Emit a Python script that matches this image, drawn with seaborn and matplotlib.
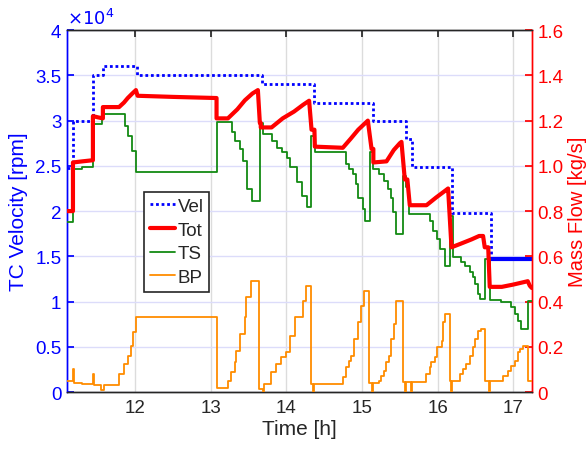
import numpy as np
import pandas as pd
import matplotlib
matplotlib.use("Agg")
import matplotlib.pyplot as plt
import seaborn as sns
from matplotlib.lines import Line2D

# ---------------- data ----------------
vel_t = [11.095, 11.175, 11.439, 11.571, 12.021, 13.675, 14.363, 15.143, 15.580, 15.655, 16.188, 16.704, 17.247]
vel_v = [24800, 30000, 35000, 36000, 35000, 34000, 32000, 30000, 28000, 24900, 19800, 14700, 14700]

tot_t = [11.095, 11.175, 11.175, 11.30, 11.439, 11.439, 11.50, 11.571, 11.571, 11.785, 11.85, 11.90, 11.96, 12.008, 12.03,
         12.5, 13.075, 13.075, 13.225, 13.35, 13.45, 13.55, 13.622, 13.648, 13.66, 13.66, 13.803, 13.95, 14.10, 14.22, 14.300,
         14.332, 14.37, 14.376, 14.746, 14.85, 14.95, 15.077, 15.126, 15.15, 15.15, 15.324, 15.42, 15.50, 15.522, 15.566,
         15.60, 15.632, 15.853, 15.98, 16.10, 16.139, 16.184, 16.30, 16.45, 16.55, 16.602, 16.624, 16.67, 16.69, 16.85,
         17.00, 17.193, 17.22, 17.247]
tot_v = [0.80, 0.80, 1.015, 1.02, 1.025, 1.22, 1.215, 1.21, 1.26, 1.26, 1.28, 1.30, 1.32, 1.335, 1.31,
         1.305, 1.30, 1.21, 1.21, 1.25, 1.29, 1.32, 1.335, 1.19, 1.19, 1.17, 1.17, 1.21, 1.24, 1.27, 1.288,
         1.16, 1.16, 1.085, 1.08, 1.12, 1.16, 1.20, 1.075, 1.075, 1.015, 1.02, 1.07, 1.10, 1.106, 0.94,
         0.94, 0.826, 0.826, 0.86, 0.89, 0.90, 0.64, 0.655, 0.675, 0.69, 0.69, 0.64, 0.64, 0.465, 0.465,
         0.475, 0.49, 0.47, 0.46]

ts_t = [11.095, 11.175, 11.30, 11.439, 11.554, 11.819, 11.862, 11.906, 11.951, 12.008, 13.075, 13.225, 13.274, 13.318,
        13.384, 13.428, 13.473, 13.539, 13.648, 13.692, 13.803, 13.869, 13.935, 14.001, 14.045, 14.134, 14.200, 14.266,
        14.326, 14.376, 14.790, 14.834, 14.878, 14.914, 14.944, 15.011, 15.046, 15.108, 15.143, 15.231, 15.297, 15.341,
        15.386, 15.407, 15.452, 15.540, 15.584, 15.628, 15.897, 15.941, 15.986, 16.029, 16.095, 16.161, 16.205, 16.315,
        16.359, 16.425, 16.469, 16.491, 16.535, 16.558, 16.632, 16.690, 16.844, 16.976, 17.020, 17.064, 17.108, 17.195,
        17.247]
ts_v = [0.75, 0.985, 0.993, 1.185, 1.229, 1.229, 1.177, 1.133, 1.066, 0.975, 1.196, 1.196, 1.148, 1.111,
        1.074, 1.022, 0.897, 0.846, 1.19, 1.14, 1.11, 1.08, 1.06, 1.037, 0.993, 0.927, 0.868, 0.816,
        1.133, 1.062, 1.008, 0.986, 0.963, 0.919, 0.86, 0.809, 0.757, 1.06, 0.986, 0.963, 0.934, 0.897,
        0.86, 0.794, 0.698, 0.956, 0.905, 0.787, 0.757, 0.713, 0.676, 0.632, 0.558, 0.78, 0.595, 0.573,
        0.558, 0.529, 0.507, 0.477, 0.433, 0.411, 0.588, 0.408, 0.396, 0.374, 0.345, 0.315, 0.278, 0.404,
        0.404]

bp_t = [11.095, 11.175, 11.19, 11.30, 11.439, 11.45, 11.55, 11.58, 11.785, 11.852, 11.905, 11.941, 11.975, 12.007,
        13.075, 13.225, 13.270, 13.314, 13.336, 13.381, 13.447, 13.469, 13.535, 13.637, 13.69, 13.70, 13.801, 13.867,
        13.933, 14.000, 14.043, 14.109, 14.220, 14.264, 14.330, 14.355, 14.365, 14.745, 14.789, 14.833, 14.855, 14.899,
        14.943, 14.988, 15.032, 15.098, 15.135, 15.145, 15.230, 15.252, 15.296, 15.318, 15.362, 15.384, 15.429,
        15.451, 15.540, 15.575, 15.585, 15.645, 15.655, 15.853, 15.897, 15.919, 15.963, 15.986, 16.052, 16.074,
        16.095, 16.161, 16.18, 16.19, 16.290, 16.334, 16.378, 16.423, 16.467, 16.489, 16.533, 16.577, 16.634,
        16.685, 16.695, 16.866, 16.932, 16.976, 17.020, 17.064, 17.086, 17.130, 17.196, 17.247]
bp_v = [0.05, 0.10, 0.04, 0.035, 0.08, 0.03, 0.01, 0.03, 0.08, 0.124, 0.16, 0.205, 0.264, 0.333,
        0.018, 0.05, 0.087, 0.131, 0.183, 0.256, 0.33, 0.419, 0.492, 0.013, 0.0, 0.035, 0.087, 0.124,
        0.153, 0.175, 0.249, 0.33, 0.404, 0.47, 0.035, 0.0, 0.035, 0.065, 0.109, 0.138, 0.16, 0.234,
        0.308, 0.381, 0.448, 0.04, 0.0, 0.04, 0.05, 0.072, 0.094, 0.131, 0.16, 0.234, 0.30,
        0.404, 0.043, 0.0, 0.043, 0.0, 0.045, 0.08, 0.109, 0.131, 0.153, 0.198, 0.227, 0.308,
        0.345, 0.05, 0.0, 0.05, 0.08, 0.10, 0.124, 0.16, 0.198, 0.234, 0.271, 0.278, 0.05,
        0.0, 0.05, 0.072, 0.094, 0.116, 0.138, 0.175, 0.19, 0.205, 0.05, 0.05]

x_ticks = [12, 13, 14, 15, 16, 17]
left_ticks = [0, 5000, 10000, 15000, 20000, 25000, 30000, 35000, 40000]
left_labels = ['0', '0.5', '1', '1.5', '2', '2.5', '3', '3.5', '4']
right_ticks = [0, 0.2, 0.4, 0.6, 0.8, 1.0, 1.2, 1.4, 1.6]
right_labels = ['0', '0.2', '0.4', '0.6', '0.8', '1.0', '1.2', '1.4', '1.6']

# ---------------- style ----------------
sns.set_theme(style="white")
plt.rcParams['font.family'] = ['Arial', 'Liberation Sans', 'DejaVu Sans']

BLUE = '#0000FF'
RED = '#FF0000'
GREEN = '#138A13'
ORANGE = '#FF8C00'
DARK = '#262626'

fig = plt.figure(figsize=(5.87, 4.52), dpi=100)
ax = fig.add_axes([0.114, 0.1305, 0.792, 0.8005])
ax2 = ax.twinx()

df_vel = pd.DataFrame({'t': vel_t, 'v': vel_v})
df_tot = pd.DataFrame({'t': tot_t, 'v': tot_v})
df_ts = pd.DataFrame({'t': ts_t, 'v': ts_v})
df_bp = pd.DataFrame({'t': bp_t, 'v': bp_v})

sns.lineplot(data=df_vel, x='t', y='v', ax=ax, color=BLUE, lw=2, linestyle=(0, (1, 1)),
             drawstyle='steps-post', estimator=None, sort=False, zorder=5)
# final plateau of the velocity trace is densely sampled -> appears solid
sns.lineplot(data=df_vel[df_vel['t'] >= vel_t[-2]], x='t', y='v', ax=ax, color=BLUE, lw=3,
             drawstyle='steps-post', estimator=None, sort=False, zorder=5)
sns.lineplot(data=df_tot, x='t', y='v', ax=ax2, color=RED, lw=3, estimator=None, sort=False, zorder=4)
sns.lineplot(data=df_ts, x='t', y='v', ax=ax2, color=GREEN, lw=1.3, drawstyle='steps-post',
             estimator=None, sort=False, zorder=3)
sns.lineplot(data=df_bp, x='t', y='v', ax=ax2, color=ORANGE, lw=1.3, drawstyle='steps-post',
             estimator=None, sort=False, zorder=3)

# axes limits / ticks
ax.set_xlim(11.095, 17.247)
ax.set_ylim(0, 40000)
ax2.set_ylim(0, 1.6)
ax.set_xticks(x_ticks)
ax.set_xticklabels([str(v) for v in x_ticks])
ax.set_yticks(left_ticks)
ax.set_yticklabels(left_labels)
ax2.set_yticks(right_ticks)
ax2.set_yticklabels(right_labels)

ax.set_xlabel('Time [h]', fontsize=15, color=DARK, labelpad=2)
ax.set_ylabel('TC Velocity [rpm]', fontsize=15, color=BLUE, labelpad=5)
ax2.set_ylabel('Mass Flow [kg/s]', fontsize=14.5, color=RED, labelpad=3)

ax.tick_params(axis='x', colors=DARK, labelsize=13.5, direction='in', length=5, top=True, pad=5)
ax.tick_params(axis='y', colors=BLUE, labelsize=13.5, direction='in', length=5, pad=4)
ax2.tick_params(axis='y', colors=RED, labelsize=13.5, direction='in', length=5, pad=4)
ax2.tick_params(axis='x', top=True, direction='in')

# grids
ax.grid(False)
ax2.grid(False)
for xv in x_ticks:
    ax.axvline(xv, color='#dcdcdc', lw=1, zorder=0)
for yv in left_ticks:
    ax.axhline(yv, color='#dcdcfa', lw=1, zorder=0)

for a in (ax, ax2):
    for sp in a.spines.values():
        sp.set_linewidth(1)
    a.spines['left'].set_color(BLUE)
    a.spines['right'].set_color(RED)
    a.spines['top'].set_color(DARK)
    a.spines['bottom'].set_color(DARK)

ax.text(0.0, 1.005, r'$\times10^{4}$', transform=ax.transAxes, color=BLUE, fontsize=13,
        ha='left', va='bottom')

handles = [Line2D([], [], color=BLUE, lw=2, linestyle=(0, (1, 1))),
           Line2D([], [], color=RED, lw=3),
           Line2D([], [], color=GREEN, lw=1.3),
           Line2D([], [], color=ORANGE, lw=1.3)]
leg = ax2.legend(handles, ['Vel', 'Tot', 'TS', 'BP'], loc='upper left', bbox_to_anchor=(0.1656, 0.5525),
                 borderaxespad=0, fontsize=13.5, frameon=True, fancybox=False, edgecolor=DARK, framealpha=1,
                 handlelength=1.35, borderpad=0.3, labelspacing=0.35, handletextpad=0.15)
leg.get_frame().set_linewidth(1.2)

fig.savefig('out.png', dpi=100)
